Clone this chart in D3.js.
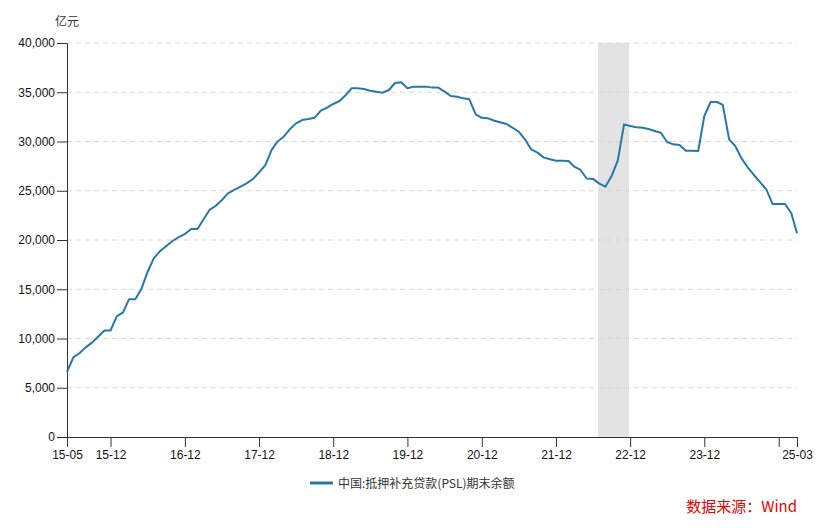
<!DOCTYPE html>
<html>
<head>
<meta charset="utf-8">
<script src="https://cdn.jsdelivr.net/npm/d3@7"></script>
<style>
  html, body { margin: 0; padding: 0; background: #fff; }
  svg { display: block; font-family: "Liberation Sans", Arial, "Noto Sans CJK SC", sans-serif; }
</style>
</head>
<body>
<svg id="chart" width="828" height="528"></svg>
<script>
// ---- data ----
const startMonth = "2015-05";
const endMonth = "2025-03";
const seriesName = "中国:抵押补充贷款(PSL)期末余额";
const unitLabel = "亿元";
const sourceLabel = "数据来源：Wind";
const values = [
  6600, 8090, 8500, 9100, 9580, 10180, 10810, 10810, 12250, 12660,
  13980, 13980, 15030, 16780, 18140, 18880, 19400, 19900, 20300, 20600,
  21120, 21120, 22030, 23050, 23450, 24060, 24740, 25080, 25410, 25750,
  26190, 26870, 27610, 29150, 29980, 30490, 31240, 31840, 32180, 32280,
  32420, 33130, 33430, 33810, 34110, 34720, 35400, 35400, 35330, 35160,
  35060, 34960, 35230, 35940, 36010, 35400, 35570, 35570, 35570, 35470,
  35470, 35060, 34620, 34550, 34380, 34280, 32760, 32400, 32350, 32110,
  31950, 31780, 31400, 30990, 30220, 29210, 28870, 28390, 28190, 28050,
  28050, 28020, 27440, 27110, 26240, 26200, 25750, 25410, 26500, 28050,
  31740, 31570, 31440, 31400, 31270, 31070, 30890, 29950, 29710, 29640,
  29070, 29070, 29040, 32590, 34010, 34010, 33710, 30220, 29540, 28290,
  27380, 26600, 25860, 25140, 23650, 23650, 23650, 22710, 20680
];
const xTickValues = ["2015-05","2015-12","2016-12","2017-12","2018-12","2019-12","2020-12","2021-12","2022-12","2023-12","2024-12","2025-03"];
const xTickLabels = ["15-05","15-12","16-12","17-12","18-12","19-12","20-12","21-12","22-12","23-12","","25-03"];
const yTickValues = [0, 5000, 10000, 15000, 20000, 25000, 30000, 35000, 40000];
const shadeRange = ["2022-06-26", "2022-11-26"];

// ---- layout ----
const W = 828, H = 528;
const margin = { top: 43, right: 31, bottom: 91, left: 67 };
const iw = W - margin.left - margin.right;
const ih = H - margin.top - margin.bottom;

const parseM = d3.timeParse("%Y-%m");
const parseD = d3.timeParse("%Y-%m-%d");
const months = d3.timeMonth.range(parseM(startMonth), d3.timeMonth.offset(parseM(endMonth), 1));
const data = months.map((d, i) => ({ date: d, value: values[i] }));

const x = d3.scaleTime().domain([parseM(startMonth), parseM(endMonth)]).range([0, iw]);
const y = d3.scaleLinear().domain([0, 40000]).range([ih, 0]);

const svg = d3.select("#chart");
const g = svg.append("g").attr("transform", `translate(${margin.left},${margin.top})`);

// shaded band
g.append("rect")
  .attr("x", x(parseD(shadeRange[0])))
  .attr("y", 0)
  .attr("width", x(parseD(shadeRange[1])) - x(parseD(shadeRange[0])))
  .attr("height", ih)
  .attr("fill", "#e3e3e3");

// grid lines
g.append("g")
  .selectAll("line")
  .data(yTickValues.filter(v => v > 0))
  .join("line")
  .attr("x1", 0).attr("x2", iw)
  .attr("y1", d => y(d)).attr("y2", d => y(d))
  .attr("stroke", "#d9d9d9")
  .attr("stroke-width", 1)
  .attr("stroke-dasharray", "5,4");

// y axis
const yAxis = g.append("g")
  .call(d3.axisLeft(y).tickValues(yTickValues).tickFormat(d3.format(",")).tickSize(10).tickPadding(2));
yAxis.select(".domain").attr("stroke", "#333");
yAxis.selectAll(".tick line").attr("stroke", "#333");
yAxis.selectAll(".tick text").attr("font-size", 12).attr("fill", "#111")
  .attr("font-family", "\"Liberation Sans\", Arial, sans-serif");

// x axis
const xAxis = g.append("g")
  .attr("transform", `translate(0,${ih})`)
  .call(d3.axisBottom(x)
    .tickValues(xTickValues.map(parseM))
    .tickFormat((d, i) => xTickLabels[i])
    .tickSize(10).tickSizeOuter(0).tickPadding(3));
xAxis.select(".domain").attr("stroke", "#333");
xAxis.selectAll(".tick line").attr("stroke", "#333");
xAxis.selectAll(".tick text").attr("font-size", 12).attr("fill", "#111")
  .attr("font-family", "\"Liberation Sans\", Arial, sans-serif");

// line
const lineGen = d3.line().x(d => x(d.date)).y(d => y(d.value));
g.append("path")
  .datum(data)
  .attr("d", lineGen)
  .attr("fill", "none")
  .attr("stroke", "#2878a6")
  .attr("stroke-width", 2)
  .attr("stroke-linejoin", "round");

// unit label
svg.append("text")
  .attr("x", 55).attr("y", 26)
  .attr("font-size", 12).attr("fill", "#333")
  .attr("font-family", "\"Noto Sans CJK SC\", sans-serif")
  .text(unitLabel);

// legend
const leg = svg.append("g").attr("transform", "translate(310,483)");
leg.append("line").attr("x1", 0).attr("x2", 23).attr("y1", 0).attr("y2", 0)
  .attr("stroke", "#2878a6").attr("stroke-width", 3);
leg.append("text").attr("x", 28).attr("y", 4.5)
  .attr("font-size", 12).attr("fill", "#333")
  .attr("font-family", "\"Noto Sans CJK SC\", sans-serif")
  .text(seriesName);

// source
svg.append("text")
  .attr("x", 797).attr("y", 512)
  .attr("text-anchor", "end")
  .attr("font-size", 15).attr("fill", "#e60000")
  .attr("font-family", "\"Noto Sans CJK SC\", sans-serif")
  .text(sourceLabel);
</script>
</body>
</html>
